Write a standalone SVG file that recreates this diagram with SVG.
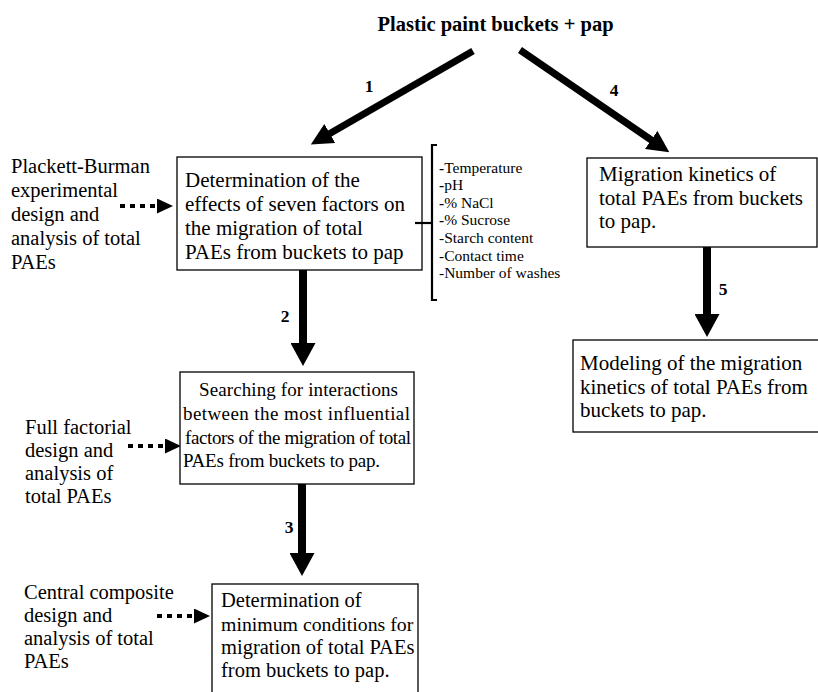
<svg xmlns="http://www.w3.org/2000/svg" width="818" height="692" viewBox="0 0 818 692">
<style>
  text { font-family: "Liberation Serif", "Times New Roman", serif; fill: #000; }
  .t { font-size: 20.5px; }
  .t21 { font-size: 21px; }
  .t19 { font-size: 19px; }
  .f { font-size: 15.5px; }
  .b { font-weight: bold; }
  .title { font-size: 20.5px; font-weight: bold; }
  .num { font-size: 17.5px; font-weight: bold; text-anchor: middle; }
  .box { fill: #fff; stroke: #000; stroke-width: 1.3; }
  .big { stroke: #000; stroke-width: 7; fill: none; }
  .vert { stroke: #000; stroke-width: 8; fill: none; }
  .dot { stroke: #000; stroke-width: 4; stroke-dasharray: 5 5; fill: none; }
  .br { stroke: #000; stroke-width: 2.2; fill: none; }
</style>
<defs>
  <marker id="hd" markerUnits="userSpaceOnUse" viewBox="0 -11 22 22" refX="1" refY="0" markerWidth="22" markerHeight="22" orient="auto">
    <path d="M0,-11 L22,0 L0,11 z" fill="#000"/>
  </marker>
  <marker id="hv" markerUnits="userSpaceOnUse" viewBox="0 -12.5 23 25" refX="1" refY="0" markerWidth="23" markerHeight="25" orient="auto">
    <path d="M0,-12.5 L23,0 L0,12.5 z" fill="#000"/>
  </marker>
  <marker id="hs" markerUnits="userSpaceOnUse" viewBox="0 -7.5 16 15" refX="-2" refY="0" markerWidth="16" markerHeight="15" orient="auto">
    <path d="M0,-7.5 L16,0 L0,7.5 z" fill="#000"/>
  </marker>
</defs>

<text id="title" class="title" x="495.5" y="31" text-anchor="middle">Plastic paint buckets + pap</text>

<g id="connectors">
  <line class="big" x1="473" y1="51" x2="329" y2="134" marker-end="url(#hd)"/>
  <line class="big" x1="520" y1="50" x2="652" y2="140.5" marker-end="url(#hd)"/>
  <line class="vert" x1="303" y1="270" x2="303" y2="344" marker-end="url(#hv)"/>
  <line class="vert" x1="302" y1="484" x2="302" y2="554" marker-end="url(#hv)"/>
  <line class="vert" x1="707" y1="247" x2="707" y2="315" marker-end="url(#hv)"/>
  <line class="dot" x1="120" y1="206" x2="155" y2="206" marker-end="url(#hs)"/>
  <line class="dot" x1="128" y1="446" x2="163" y2="446" marker-end="url(#hs)"/>
  <line class="dot" x1="157" y1="616" x2="192" y2="616" marker-end="url(#hs)"/>
  <text class="num" x="369" y="92">1</text>
  <text class="num" x="285" y="322">2</text>
  <text class="num" x="289" y="533">3</text>
  <text class="num" x="614" y="96">4</text>
  <text class="num" x="723" y="295">5</text>
</g>

<g id="box1">
  <rect class="box" x="177" y="157" width="245" height="113"/>
  <text class="t21" x="185" y="187">Determination of the</text>
  <text class="t21" x="185" y="211">effects of seven factors on</text>
  <text class="t21" x="185" y="235">the migration of total</text>
  <text class="t21" x="185" y="259">PAEs from buckets to pap</text>
</g>

<g id="factors">
  <path class="br" d="M415,223 L432,223"/>
  <path class="br" d="M437,145 L432,145 L432,300 L437,300"/>
  <text class="f" x="439" y="172.5"><tspan class="b">-</tspan>Temperature</text>
  <text class="f" x="439" y="190"><tspan class="b">-</tspan>pH</text>
  <text class="f" x="439" y="207.7"><tspan class="b">-</tspan>% NaCl</text>
  <text class="f" x="439" y="225.3"><tspan class="b">-</tspan>% Sucrose</text>
  <text class="f" x="439" y="242.9">-Starch content</text>
  <text class="f" x="439" y="260.5">-Contact time</text>
  <text class="f" x="439" y="278">-Number of washes</text>
</g>

<g id="method1">
  <text class="t" x="11" y="173">Plackett-Burman</text>
  <text class="t" x="11" y="197">experimental</text>
  <text class="t" x="11" y="221">design and</text>
  <text class="t" x="11" y="245">analysis of total</text>
  <text class="t" x="11" y="269">PAEs</text>
</g>

<g id="box2">
  <rect class="box" x="180" y="372" width="234" height="112"/>
  <text class="t19" x="199" y="396" textLength="199" lengthAdjust="spacing">Searching for interactions</text>
  <text class="t19" x="183" y="420" textLength="227" lengthAdjust="spacing">between the most influential</text>
  <text class="t19" x="185" y="443.5" textLength="226" lengthAdjust="spacing">factors of the migration of total</text>
  <text class="t19" x="183" y="467" textLength="197" lengthAdjust="spacing">PAEs from buckets to pap.</text>
</g>

<g id="method2">
  <text class="t" x="25" y="434">Full factorial</text>
  <text class="t" x="25" y="457">design and</text>
  <text class="t" x="25" y="480">analysis of</text>
  <text class="t" x="25" y="503">total PAEs</text>
</g>

<g id="box3">
  <rect class="box" x="212" y="584" width="206" height="130"/>
  <text class="t" x="221" y="607">Determination of</text>
  <text class="t" x="221" y="631" style="font-size:19.8px">minimum conditions for</text>
  <text class="t" x="221" y="654">migration of total PAEs</text>
  <text class="t" x="221" y="677">from buckets to pap.</text>
</g>

<g id="method3">
  <text class="t" x="24" y="599">Central composite</text>
  <text class="t" x="24" y="622">design and</text>
  <text class="t" x="24" y="645">analysis of total</text>
  <text class="t" x="24" y="668">PAEs</text>
</g>

<g id="box4">
  <rect class="box" x="587" y="158" width="230" height="89"/>
  <text class="t21" x="599" y="181">Migration kinetics of</text>
  <text class="t21" x="599" y="205">total PAEs from buckets</text>
  <text class="t21" x="599" y="228">to pap.</text>
</g>

<g id="box5">
  <rect class="box" x="573" y="340" width="250" height="92"/>
  <text class="t21" x="580" y="370">Modeling of the migration</text>
  <text class="t21" x="580" y="394">kinetics of total PAEs from</text>
  <text class="t21" x="580" y="417">buckets to pap.</text>
</g>
</svg>
